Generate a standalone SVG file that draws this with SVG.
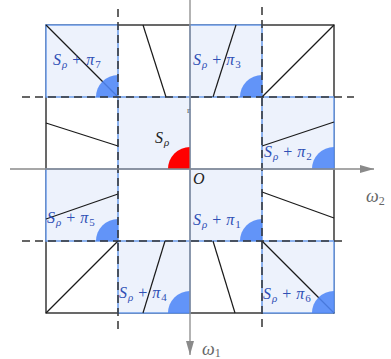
<svg xmlns="http://www.w3.org/2000/svg" width="391" height="359" viewBox="0 0 391 359">
<style>
.cell{fill:#edf2fc;stroke:#6a9be9;stroke-width:1.5}
.disc{fill:#4f86f7;fill-opacity:0.88}
.red{fill:#ff0000}
.ln{stroke:#1a1a1a;stroke-width:1.2;fill:none}
.dash{stroke:#333;stroke-width:1.5;stroke-dasharray:8 5;fill:none}
.axis{stroke:#8a8a8a;stroke-width:1.3;fill:none}
.lb{font-family:"Liberation Serif",serif;font-size:16px;fill:#2f4fb5}
.it{font-style:italic}
.sub{font-size:11px}
.ax{font-family:"Liberation Serif",serif;font-size:18px;fill:#666;font-style:italic}
</style>
<defs>
<marker id="arr" viewBox="0 0 14 8" refX="14" refY="4" markerWidth="14" markerHeight="8" markerUnits="userSpaceOnUse" orient="auto">
<path d="M0,0 L14,4 L0,8 Z" fill="#8a8a8a"/>
</marker>
</defs>
<rect x="46" y="25" width="288" height="288" fill="#fff" stroke="#1a1a1a" stroke-width="1.3"/>
<g id="cells">
<g id="c7"><rect class="cell" x="46" y="25" width="72" height="72"/></g>
<g id="c3"><rect class="cell" x="190" y="25" width="72" height="72"/></g>
<g id="c0"><rect class="cell" x="118" y="97" width="72" height="72"/></g>
<g id="c2"><rect class="cell" x="262" y="97" width="72" height="72"/></g>
<g id="c5"><rect class="cell" x="46" y="169" width="72" height="72"/></g>
<g id="c1"><rect class="cell" x="190" y="169" width="72" height="72"/></g>
<g id="c4"><rect class="cell" x="118" y="241" width="72" height="72"/></g>
<g id="c6"><rect class="cell" x="262" y="241" width="72" height="72"/></g>
</g>
<g id="connectors">
<line class="ln" x1="46" y1="25" x2="118" y2="97"/>
<line class="ln" x1="143" y1="25" x2="166" y2="97"/>
<line class="ln" x1="236" y1="25" x2="213" y2="97"/>
<line class="ln" x1="262" y1="97" x2="334" y2="25"/>
<line class="ln" x1="46" y1="123" x2="118" y2="146"/>
<line class="ln" x1="262" y1="146" x2="334" y2="122"/>
<line class="ln" x1="46" y1="219" x2="118" y2="194"/>
<line class="ln" x1="262" y1="192" x2="334" y2="218"/>
<line class="ln" x1="46" y1="313" x2="118" y2="241"/>
<line class="ln" x1="165" y1="241" x2="143" y2="313"/>
<line class="ln" x1="213" y1="241" x2="235" y2="313"/>
<line class="ln" x1="262" y1="241" x2="334" y2="313"/>
</g>
<g id="discs">
<path class="disc" d="M118,97 L96,97 A22,22 0 0 1 118,75 Z"/>
<path class="disc" d="M262,97 L240,97 A22,22 0 0 1 262,75 Z"/>
<path class="red" d="M190,169 L168,169 A22,22 0 0 1 190,147 Z"/>
<path class="disc" d="M334,169 L312,169 A22,22 0 0 1 334,147 Z"/>
<path class="disc" d="M118,241 L96,241 A22,22 0 0 1 118,219 Z"/>
<path class="disc" d="M262,241 L240,241 A22,22 0 0 1 262,219 Z"/>
<path class="disc" d="M190,313 L168,313 A22,22 0 0 1 190,291 Z"/>
<path class="disc" d="M334,313 L312,313 A22,22 0 0 1 334,291 Z"/>
</g>
<g id="dashes">
<line class="dash" x1="22" y1="97" x2="354" y2="97"/>
<line class="dash" x1="22" y1="241" x2="343" y2="241"/>
<line class="dash" x1="118" y1="9" x2="118" y2="329"/>
<line class="dash" x1="262" y1="7" x2="262" y2="328"/>
</g>
<g id="axes">
<line class="axis" x1="10" y1="169" x2="374" y2="169" marker-end="url(#arr)"/>
<line class="axis" x1="190" y1="0" x2="190" y2="355" marker-end="url(#arr)"/>
</g>
<g id="labels">
<text class="lb" x="53" y="65"><tspan class="it">S</tspan><tspan class="sub it" dx="1" dy="3">ρ</tspan><tspan dx="5" dy="-3">+</tspan><tspan class="it" dx="5">π</tspan><tspan class="sub" dx="1" dy="3">7</tspan></text>
<text class="lb" x="193" y="65"><tspan class="it">S</tspan><tspan class="sub it" dx="1" dy="3">ρ</tspan><tspan dx="5" dy="-3">+</tspan><tspan class="it" dx="5">π</tspan><tspan class="sub" dx="1" dy="3">3</tspan></text>
<text class="lb" x="264" y="157"><tspan class="it">S</tspan><tspan class="sub it" dx="1" dy="3">ρ</tspan><tspan dx="5" dy="-3">+</tspan><tspan class="it" dx="5">π</tspan><tspan class="sub" dx="1" dy="3">2</tspan></text>
<text class="lb" x="47" y="223"><tspan class="it">S</tspan><tspan class="sub it" dx="1" dy="3">ρ</tspan><tspan dx="5" dy="-3">+</tspan><tspan class="it" dx="5">π</tspan><tspan class="sub" dx="1" dy="3">5</tspan></text>
<text class="lb" x="193" y="225"><tspan class="it">S</tspan><tspan class="sub it" dx="1" dy="3">ρ</tspan><tspan dx="5" dy="-3">+</tspan><tspan class="it" dx="5">π</tspan><tspan class="sub" dx="1" dy="3">1</tspan></text>
<text class="lb" x="119" y="298"><tspan class="it">S</tspan><tspan class="sub it" dx="1" dy="3">ρ</tspan><tspan dx="5" dy="-3">+</tspan><tspan class="it" dx="5">π</tspan><tspan class="sub" dx="1" dy="3">4</tspan></text>
<text class="lb" x="263" y="299"><tspan class="it">S</tspan><tspan class="sub it" dx="1" dy="3">ρ</tspan><tspan dx="5" dy="-3">+</tspan><tspan class="it" dx="5">π</tspan><tspan class="sub" dx="1" dy="3">6</tspan></text>
<text class="lb" x="155" y="143" style="fill:#222"><tspan class="it">S</tspan><tspan class="sub it" dx="1" dy="3">ρ</tspan></text>
<text x="193" y="184" style="font-family:'Liberation Serif',serif;font-size:16px;font-style:italic;fill:#222">O</text>
<text x="187" y="113" style="font-family:'Liberation Serif',serif;font-size:9px;fill:#555">r</text>
<text class="ax" x="366" y="202">ω<tspan class="sub" style="font-size:12px;font-style:normal" dy="3">2</tspan></text>
<text class="ax" x="202" y="355">ω<tspan class="sub" style="font-size:12px;font-style:normal" dy="2">1</tspan></text>
</g>
</svg>
